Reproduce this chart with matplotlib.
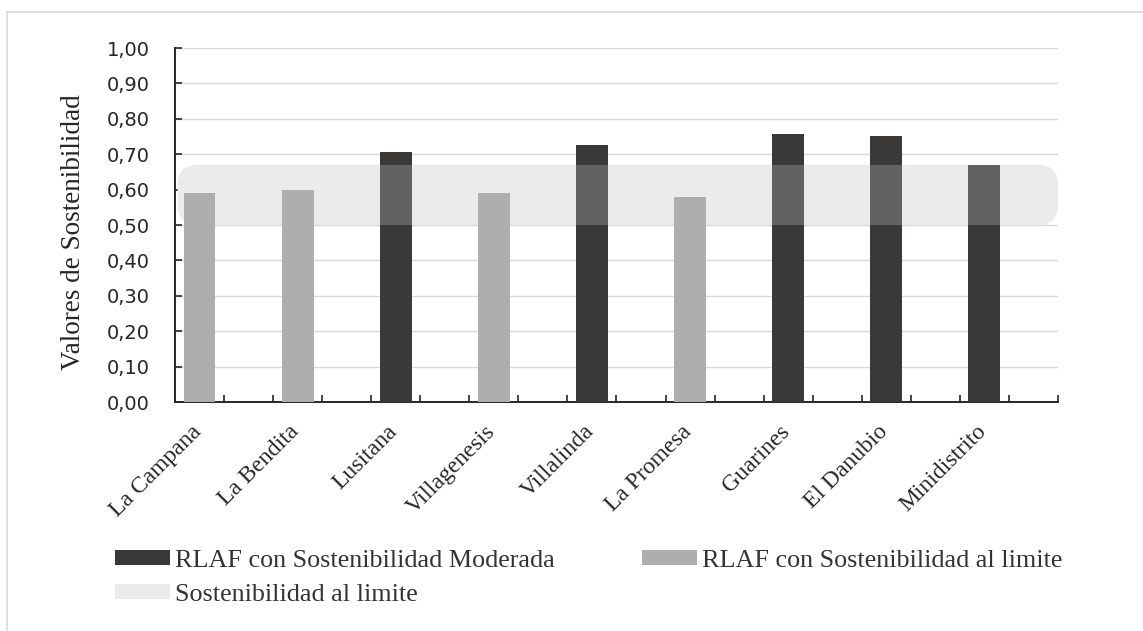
"""Valores de sostenibilidad por RLAF: barras con franja de sostenibilidad al limite."""

import matplotlib
matplotlib.use("Agg")
import matplotlib.pyplot as plt
from matplotlib.lines import Line2D
from matplotlib.patches import FancyBboxPatch, Patch
from matplotlib.transforms import ScaledTranslation

FINCAS   = ["La Campana", "La Bendita", "Lusitana", "Villagenesis", "Villalinda",
            "La Promesa", "Guarines", "El Danubio", "Minidistrito"]
VALORES  = [0.591, 0.600, 0.707, 0.591, 0.726, 0.578, 0.757, 0.751, 0.670]
MODERADA = [False, False, True, False, True, False, True, True, True]
Y_TICKS  = [0.0, 0.1, 0.2, 0.3, 0.4, 0.5, 0.6, 0.7, 0.8, 0.9, 1.0]

BANDA = (0.50, 0.670)    # franja "Sostenibilidad al limite"

C_OSCURO = "#3a3937"
C_MEDIO  = "#636161"
C_CLARO  = "#b0aeac"
C_BANDA  = "#ebebeb"
C_TEXTO  = "#262626"
SERIF    = "Liberation Serif"
SANS     = "DejaVu Sans"

AX_RECT = [0.1531, 0.3629, 0.7725, 0.561]


def main():
    fig = plt.figure(figsize=(11.43, 6.31), dpi=100)
    # marco del grafico (solo arriba e izquierda, como en el original)
    fig.lines.append(Line2D([0.006, 1.0], [0.981, 0.981], transform=fig.transFigure,
                            color="#d9d9d9", lw=1.2))
    fig.lines.append(Line2D([0.006, 0.006], [0.0, 0.981], transform=fig.transFigure,
                            color="#d9d9d9", lw=1.2))
    ax = fig.add_axes(AX_RECT)

    n_slots = 2 * len(FINCAS)
    ax.set_xlim(-0.5, n_slots - 0.5)
    ax.set_ylim(0, 1.0)

    # franja redondeada detras de las barras (en coordenadas de ejes)
    w_px = AX_RECT[2] * 1143
    h_px = AX_RECT[3] * 631
    radio = 20 / w_px
    ax.add_patch(FancyBboxPatch((0.003, BANDA[0]), 0.997, BANDA[1] - BANDA[0],
                                boxstyle=f"round,pad=0,rounding_size={radio}",
                                mutation_aspect=w_px / h_px, transform=ax.transAxes,
                                fc=C_BANDA, ec="none", zorder=1))

    w = 0.65
    for i, (v, mod) in enumerate(zip(VALORES, MODERADA)):
        x = 2 * i
        if not mod:
            ax.bar(x, v, width=w, color=C_CLARO, zorder=3)
            continue
        lo, hi = BANDA
        ax.bar(x, min(v, lo), width=w, color=C_OSCURO, zorder=3)
        ax.bar(x, min(v, hi) - lo, bottom=lo, width=w, color=C_MEDIO, zorder=3)
        if v > hi:
            ax.bar(x, v - hi, bottom=hi, width=w, color=C_OSCURO, zorder=3)

    ax.set_yticks(Y_TICKS)
    ax.set_yticklabels([f"{t:.2f}".replace(".", ",") for t in Y_TICKS],
                       family=SANS, fontsize=14, color=C_TEXTO)
    ax.yaxis.grid(True, color="#d9d9d9", lw=1.0, zorder=0)
    ax.set_axisbelow(True)

    # etiquetas de categoria a 45 grados, algo a la izquierda del centro de la barra
    ax.set_xticks([2 * i for i in range(len(FINCAS))])
    ax.set_xticklabels([])
    lbl_tr = ax.get_xaxis_transform() + ScaledTranslation(-0.09, -0.19, fig.dpi_scale_trans)
    for i, nombre in enumerate(FINCAS):
        ax.text(2 * i, 0, nombre, transform=lbl_tr, rotation=45, ha="right", va="top",
                rotation_mode="anchor", family=SERIF, fontsize=17, color=C_TEXTO)
    ax.set_xticks([k + 0.5 for k in range(n_slots)], minor=True)
    ax.tick_params(axis="x", which="major", length=0)
    ax.tick_params(axis="x", which="minor", direction="in", length=5, width=1.2, color=C_TEXTO)
    ax.tick_params(axis="y", direction="in", length=5, width=1.2, color=C_TEXTO, pad=18)

    for s in ("top", "right"):
        ax.spines[s].set_visible(False)
    for s in ("left", "bottom"):
        ax.spines[s].set_linewidth(1.4)
        ax.spines[s].set_color(C_TEXTO)

    ax.set_ylabel("Valores de Sostenibilidad", family=SERIF, fontsize=19.5, color=C_TEXTO)
    ax.yaxis.set_label_coords(-0.101, 0.48)

    # orden por columnas: col 1 = moderada, franja; col 2 = al limite
    handles = [Patch(fc=C_OSCURO, ec="none"), Patch(fc=C_BANDA, ec="none"),
               Patch(fc=C_CLARO, ec="none")]
    labels = ["RLAF con Sostenibilidad Moderada", "Sostenibilidad al limite",
              "RLAF con Sostenibilidad al limite"]
    fig.legend(handles, labels, loc="upper left", bbox_to_anchor=(115 / 1143, 1 - 550 / 631),
               ncol=2, frameon=False, prop={"family": SERIF, "size": 18.8},
               borderpad=0, borderaxespad=0,
               handlelength=2.1, handleheight=0.5, handletextpad=0.2,
               columnspacing=3.35, labelspacing=0.45, labelcolor="#333333")

    fig.savefig("out.png", dpi=100)


if __name__ == "__main__":
    main()
